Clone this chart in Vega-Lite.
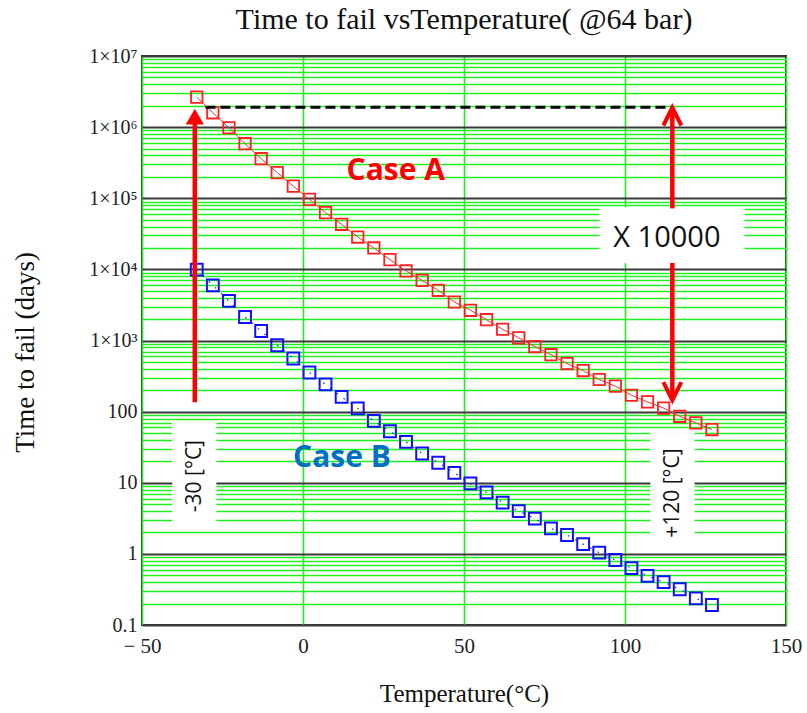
{
  "$schema": "https://vega.github.io/schema/vega-lite/v6.json",
  "width": 644,
  "height": 569,
  "autosize": "none",
  "padding": {"left": 142, "top": 56, "right": 21, "bottom": 88},
  "background": "white",
  "config": {"view": {"stroke": "#333", "strokeWidth": 2}},
  "title": {"text": "Time to fail vsTemperature( @64 bar)", "font": "Liberation Serif", "fontSize": 30, "fontWeight": "normal", "color": "#111", "anchor": "middle", "frame": "group", "baseline": "alphabetic", "offset": 24, "dy": 37},
  "datasets": {
    "caseA": [
      {"T": -33, "D": 2640000}, {"T": -28, "D": 1590000}, {"T": -23, "D": 980000}, {"T": -18, "D": 585000},
      {"T": -13, "D": 360000}, {"T": -8, "D": 229000}, {"T": -3, "D": 148000}, {"T": 2, "D": 96400},
      {"T": 7, "D": 62700}, {"T": 12, "D": 43000}, {"T": 17, "D": 28500}, {"T": 22, "D": 20000},
      {"T": 27, "D": 13700}, {"T": 32, "D": 9500}, {"T": 37, "D": 7000}, {"T": 42, "D": 5080},
      {"T": 47, "D": 3480}, {"T": 52, "D": 2660}, {"T": 57, "D": 1960}, {"T": 62, "D": 1440},
      {"T": 67, "D": 1090}, {"T": 72, "D": 822}, {"T": 77, "D": 631}, {"T": 82, "D": 474},
      {"T": 87, "D": 378}, {"T": 92, "D": 283}, {"T": 97, "D": 228}, {"T": 102, "D": 170},
      {"T": 107, "D": 137}, {"T": 112, "D": 112}, {"T": 117, "D": 86}, {"T": 122, "D": 69.5},
      {"T": 127, "D": 56}
    ],
    "caseB": [
      {"T": -33, "D": 9930}, {"T": -28, "D": 5970}, {"T": -23, "D": 3600}, {"T": -18, "D": 2140},
      {"T": -13, "D": 1360}, {"T": -8, "D": 858}, {"T": -3, "D": 558}, {"T": 2, "D": 355},
      {"T": 7, "D": 241}, {"T": 12, "D": 161}, {"T": 17, "D": 111}, {"T": 22, "D": 74},
      {"T": 27, "D": 53}, {"T": 32, "D": 37.6}, {"T": 37, "D": 25.8}, {"T": 42, "D": 19.1},
      {"T": 47, "D": 13.8}, {"T": 52, "D": 9.8}, {"T": 57, "D": 7.31}, {"T": 62, "D": 5.26},
      {"T": 67, "D": 4.0}, {"T": 72, "D": 3.13}, {"T": 77, "D": 2.28}, {"T": 82, "D": 1.84},
      {"T": 87, "D": 1.37}, {"T": 92, "D": 1.04}, {"T": 97, "D": 0.82}, {"T": 102, "D": 0.63},
      {"T": 107, "D": 0.49}, {"T": 112, "D": 0.40}, {"T": 117, "D": 0.318}, {"T": 122, "D": 0.237},
      {"T": 127, "D": 0.191}
    ]
  },
  "encoding": {
    "x": {
      "field": "T", "type": "quantitative",
      "scale": {"domain": [-50, 150], "nice": false, "zero": false},
      "axis": {
        "title": "Temperature(°C)", "values": [-50, 0, 50, 100, 150],
        "grid": true, "gridColor": "#22ee22", "gridWidth": 1.6, "gridOpacity": 1,
        "domain": false, "ticks": false,
        "labelFont": "Liberation Serif", "labelFontSize": 21, "labelColor": "#222",
        "labelPadding": 10, "labelFlush": false, "labelOverlap": false,
        "labelExpr": "datum.value < 0 ? '− ' + abs(datum.value) : '' + datum.value",
        "titleFont": "Liberation Serif", "titleFontSize": 25, "titleFontWeight": "normal", "titleColor": "#111",
        "titleY": 76, "titleBaseline": "alphabetic"
      }
    },
    "y": {
      "field": "D", "type": "quantitative",
      "scale": {"type": "log", "domain": [0.1, 10000000], "nice": false},
      "axis": {
        "title": "Time to fail (days)",
        "values": [0.1,0.2,0.3,0.4,0.5,0.6,0.7,0.8,0.9,1,2,3,4,5,6,7,8,9,10,20,30,40,50,60,70,80,90,100,200,300,400,500,600,700,800,900,1000,2000,3000,4000,5000,6000,7000,8000,9000,10000,20000,30000,40000,50000,60000,70000,80000,90000,100000,200000,300000,400000,500000,600000,700000,800000,900000,1000000,2000000,3000000,4000000,5000000,6000000,7000000,8000000,9000000,10000000],
        "grid": true, "gridOpacity": 1,
        "gridColor": {"condition": {"test": "abs(log(datum.value)/LN10 - round(log(datum.value)/LN10)) < 0.001", "value": "#3a3a3a"}, "value": "#22ee22"},
        "gridWidth": {"condition": {"test": "abs(log(datum.value)/LN10 - round(log(datum.value)/LN10)) < 0.001", "value": 2}, "value": 1.6},
        "domain": false, "ticks": false,
        "labelFont": "Liberation Serif", "labelFontSize": 20, "labelColor": "#222",
        "labelPadding": 5, "labelFlush": false, "labelOverlap": false,
        "labelExpr": "abs(log(datum.value)/LN10 - round(log(datum.value)/LN10)) > 0.001 ? '' : (datum.value >= 1000 ? '1×10' + ['⁰','¹','²','³','⁴','⁵','⁶','⁷'][round(log(datum.value)/LN10)] : (datum.value >= 1 ? format(datum.value, 'd') : '0.1'))",
        "titleFont": "Liberation Serif", "titleFontSize": 27, "titleFontWeight": "normal", "titleColor": "#111",
        "titleX": -117, "titleY": 296, "titleBaseline": "middle"
      }
    }
  },
  "layer": [
    {
      "data": {"values": [
        {"T": 92.1, "T2": 137.1, "D": 12200, "D2": 74500},
        {"T": -40.6, "T2": -26.9, "D": 2.71, "D2": 71.1},
        {"T": 107.9, "T2": 121.6, "D": 1.03, "D2": 51.4}
      ]},
      "mark": {"type": "rect", "fill": "white", "strokeWidth": 0},
      "encoding": {"x2": {"field": "T2"}, "y2": {"field": "D2"}}
    },
    {
      "data": {"name": "caseA"},
      "mark": {"type": "line", "color": "#ff3030", "strokeWidth": 1}
    },
    {
      "data": {"name": "caseA"},
      "mark": {"type": "point", "shape": "square", "filled": false, "stroke": "#ff2020", "strokeWidth": 1.8, "size": 130, "opacity": 1}
    },
    {
      "data": {"name": "caseB"},
      "mark": {"type": "line", "color": "#2020ff", "strokeWidth": 1.2, "strokeDash": [1.5, 7]}
    },
    {
      "data": {"name": "caseB"},
      "mark": {"type": "point", "shape": "square", "filled": false, "stroke": "#1010ff", "strokeWidth": 2, "size": 140, "opacity": 1}
    },
    {
      "data": {"values": [{"T": -30.3, "T2": 114.7, "D": 1900000}]},
      "mark": {"type": "rule", "color": "#000", "strokeWidth": 3, "strokeDash": [10, 5]},
      "encoding": {"x2": {"field": "T2"}}
    },
    {
      "data": {"values": [
        {"T": -33.6, "D": 136, "D2": 1320000},
        {"T": 114.7, "D": 72000, "D2": 1710000},
        {"T": 114.7, "D": 12300, "D2": 154}
      ]},
      "mark": {"type": "rule", "color": "#ff0000", "strokeWidth": 4.5},
      "encoding": {"y2": {"field": "D2"}}
    },
    {
      "data": {"values": [{"T": -33.6, "D": 1410000}]},
      "mark": {"type": "point", "shape": "triangle-up", "filled": true, "fill": "#ff0000", "size": 330, "opacity": 1, "strokeWidth": 0}
    },
    {
      "data": {"values": [{"T": 114.7, "D": 1410000}]},
      "mark": {"type": "point", "shape": "M -1 1 L 0 -1 L 1 1", "filled": false, "stroke": "#ff0000", "strokeWidth": 4, "size": 324, "opacity": 1}
    },
    {
      "data": {"values": [{"T": 114.7, "D": 194}]},
      "mark": {"type": "point", "shape": "M -1 -1 L 0 1 L 1 -1", "filled": false, "stroke": "#ff0000", "strokeWidth": 4, "size": 324, "opacity": 1}
    },
    {
      "data": {"values": [{"T": 28.8, "D": 178000, "label": "Case A"}]},
      "mark": {"type": "text", "font": "Open Sans", "fontWeight": "bold", "fontSize": 30, "color": "#ff0000", "align": "center", "baseline": "alphabetic"},
      "encoding": {"text": {"field": "label"}}
    },
    {
      "data": {"values": [{"T": 12.1, "D": 16.6, "label": "Case B"}]},
      "mark": {"type": "text", "font": "Open Sans", "fontWeight": "bold", "fontSize": 30, "color": "#0070c0", "align": "center", "baseline": "alphabetic"},
      "encoding": {"text": {"field": "label"}}
    },
    {
      "data": {"values": [{"T": 113, "D": 20600, "label": "X 10000"}]},
      "mark": {"type": "text", "font": "Open Sans", "fontSize": 29, "color": "#111", "align": "center", "baseline": "alphabetic"},
      "encoding": {"text": {"field": "label"}}
    },
    {
      "data": {"values": [
        {"T": -33.4, "D": 12.4, "label": "-30 [°C]"},
        {"T": 115, "D": 7.15, "label": "+120 [°C]"}
      ]},
      "mark": {"type": "text", "font": "Open Sans", "fontSize": 21, "color": "#111", "align": "center", "baseline": "middle", "angle": 270},
      "encoding": {"text": {"field": "label"}}
    }
  ]
}
